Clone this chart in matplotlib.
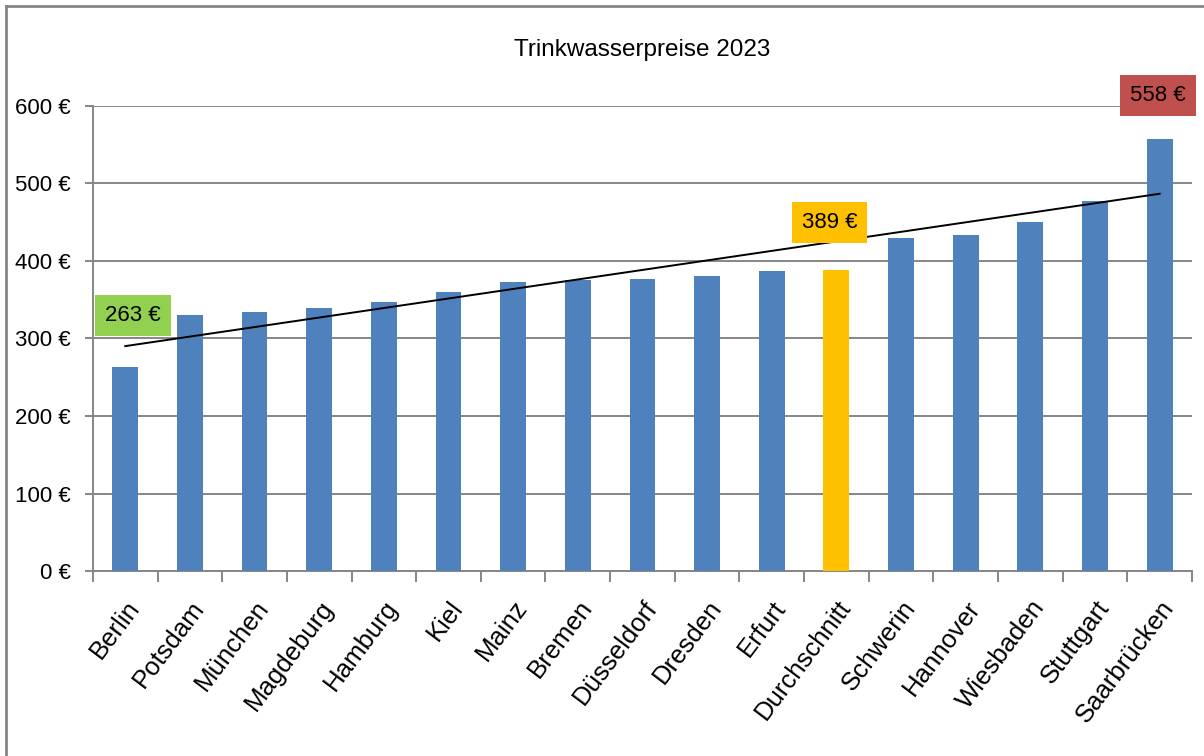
import numpy as np
import matplotlib
matplotlib.use("Agg")
import matplotlib.pyplot as plt
from matplotlib.lines import Line2D

plt.rcParams['font.family'] = ['Liberation Sans', 'DejaVu Sans']

# Daten
staedte = ["Berlin", "Potsdam", "München", "Magdeburg", "Hamburg", "Kiel", "Mainz",
           "Bremen", "Düsseldorf", "Dresden", "Erfurt", "Durchschnitt", "Schwerin",
           "Hannover", "Wiesbaden", "Stuttgart", "Saarbrücken"]
preise = [263, 330, 334, 339, 347, 360, 373, 375, 377, 381, 387, 389, 430, 434, 450, 477, 558]
y_ticks = [0, 100, 200, 300, 400, 500, 600]

blau = "#4F81BD"
gelb = "#FFC000"
grau = "#868686"

fig = plt.figure(figsize=(12.04, 7.56), dpi=100)
ax = fig.add_axes([0.0772, 0.2447, 0.9128, 0.6151])

x = np.arange(len(staedte))
farben = [gelb if s == "Durchschnitt" else blau for s in staedte]
ax.bar(x, preise, width=0.4, color=farben, zorder=3)

# Trendlinie (linear)
m, b = np.polyfit(x, preise, 1)
ax.plot([x[0], x[-1]], [m * x[0] + b, m * x[-1] + b], color="black", lw=1.4, zorder=4)

ax.set_xlim(-0.5, len(staedte) - 0.5)
ax.set_ylim(0, 600)
ax.set_yticks(y_ticks)
ax.set_yticklabels(["%d €" % v for v in y_ticks], fontsize=16)
ax.yaxis.grid(True, color=grau, lw=1.4, zorder=0)
ax.tick_params(axis="y", length=6, width=1.4, color=grau, pad=10)

ax.set_xticks(x)
ax.set_xticklabels(staedte, fontsize=18.5, rotation=53, ha="right", va="top",
                   rotation_mode="anchor")
ax.tick_params(axis="x", length=0, pad=18)
ax.set_xticks(np.arange(-0.5, len(staedte)), minor=True)
ax.tick_params(axis="x", which="minor", length=8, width=1.4, color=grau)

for s in ["top", "right"]:
    ax.spines[s].set_visible(False)
for s in ["left", "bottom"]:
    ax.spines[s].set_color(grau)
    ax.spines[s].set_linewidth(1.4)

ax.set_title("Trinkwasserpreise 2023", fontsize=17.5, pad=36)

# Beschriftungen
i_min = 0
i_avg = staedte.index("Durchschnitt")
i_max = len(staedte) - 1
box = "square,pad=0.45"
ax.text(i_min + 0.12, 330, "%d €" % preise[i_min], fontsize=16, ha="center", va="center",
        bbox=dict(boxstyle=box, fc="#92D050", ec="none"), zorder=5)
ax.text(i_avg - 0.11, 450, "%d €" % preise[i_avg], fontsize=16, ha="center", va="center",
        bbox=dict(boxstyle=box, fc=gelb, ec="none"), zorder=5)
ax.text(i_max - 0.03, 614, "%d €" % preise[i_max], fontsize=16, ha="center", va="center",
        bbox=dict(boxstyle=box, fc="#C0504D", ec="none"), zorder=5,
        clip_on=False)

# Rahmen oben und links
fig.add_artist(Line2D([0.005, 1.0], [0.9927, 0.9927], color=grau, lw=2))
fig.add_artist(Line2D([0.005, 0.005], [0.0, 0.9927], color=grau, lw=2))

fig.savefig("out.png", dpi=100)
